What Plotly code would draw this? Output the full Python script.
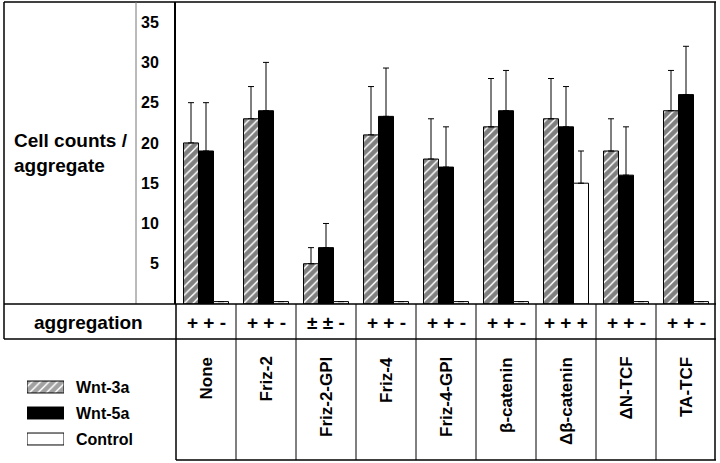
import plotly.graph_objects as go

W, H = 720, 463

categories = ["None", "Friz-2", "Friz-2-GPI", "Friz-4", "Friz-4-GPI",
              "β-catenin", "Δβ-catenin", "ΔN-TCF", "TA-TCF"]
wnt3a = [20, 23, 5, 21, 18, 22, 23, 19, 24]
wnt3a_err = [5, 4, 2, 6, 5, 6, 5, 4, 5]
wnt5a = [19, 24, 7, 23.3, 17, 24, 22, 16, 26]
wnt5a_err = [6, 6, 3, 6, 5, 5, 5, 6, 6]
control = [0.3, 0.3, 0.3, 0.3, 0.3, 0.3, 15, 0.3, 0.3]
control_err = [0, 0, 0, 0, 0, 0, 4, 0, 0]
aggregation = ["+ + -", "+ + -", "± ± -", "+ + -", "+ + -",
               "+ + -", "+ + +", "+ + -", "+ + -"]
yticks = [5, 10, 15, 20, 25, 30, 35]
series_names = ["Wnt-3a", "Wnt-5a", "Control"]

FONT = "Liberation Sans, Arial, Helvetica, sans-serif"
HATCH = dict(shape="/", fgcolor="black", size=6, solidity=0.75)


def px(x):
    return x / W


def py(y):
    return 1 - y / H


def err(vals):
    return dict(type="data", symmetric=False, array=vals,
                arrayminus=[0] * len(vals), color="black",
                thickness=1, width=3)


fig = go.Figure()
fig.add_trace(go.Bar(
    x=categories, y=wnt3a, name=series_names[0],
    marker=dict(color="white", line=dict(color="black", width=1),
                pattern=dict(HATCH, bgcolor="white")),
    error_y=err(wnt3a_err)))
fig.add_trace(go.Bar(
    x=categories, y=wnt5a, name=series_names[1],
    marker=dict(color="black", line=dict(color="black", width=1)),
    error_y=err(wnt5a_err)))
fig.add_trace(go.Bar(
    x=categories, y=control, name=series_names[2],
    marker=dict(color="white", line=dict(color="black", width=1)),
    error_y=err(control_err)))

# legend key drawn as a small bar chart of its own
fig.add_trace(go.Bar(
    x=[1, 1, 1], y=series_names, orientation="h",
    xaxis="x2", yaxis="y2", hoverinfo="skip",
    marker=dict(color=["white", "black", "white"],
                line=dict(color="black", width=1),
                pattern=dict(shape=["/", "", ""], fgcolor="black",
                             bgcolor=["white", "black", "white"],
                             size=6, solidity=0.75))))

fig.update_layout(
    width=W, height=H,
    margin=dict(l=0, r=0, t=0, b=0, autoexpand=False),
    paper_bgcolor="white", plot_bgcolor="white",
    barmode="group", bargap=0.25, bargroupgap=0,
    font=dict(family=FONT, color="black"),
    showlegend=False,
    xaxis=dict(domain=[px(176), px(716)], showticklabels=False,
               showgrid=False, zeroline=False, showline=False, ticks="",
               automargin=False),
    yaxis=dict(domain=[py(304), py(2)], range=[0, 37.5],
               tickvals=yticks, ticks="", showgrid=False, zeroline=False,
               showline=True, linewidth=2, linecolor="black",
               ticklabelstandoff=12, automargin=False,
               tickfont=dict(size=16, family=FONT, weight="bold")),
    xaxis2=dict(domain=[px(27), px(64)], range=[0, 1], visible=False,
                anchor="y2", automargin=False),
    yaxis2=dict(domain=[py(452), py(374)], anchor="x2", side="right",
                categoryorder="array", categoryarray=series_names[::-1],
                showgrid=False, zeroline=False, showline=False, ticks="",
                ticklabelstandoff=11, automargin=False,
                tickfont=dict(size=16, family=FONT, weight="bold")),
)
fig.update_traces(width=0.46, selector=dict(xaxis="x2"))

shapes = []


def line(x0, y0, x1, y1, w=1.2, color="black"):
    shapes.append(dict(type="line", xref="paper", yref="paper",
                       x0=px(x0), y0=py(y0), x1=px(x1), y1=py(y1),
                       line=dict(color=color, width=w)))


# outer frame / table rules
line(4, 2, 716, 2, 1.5)
line(4, 2, 4, 339, 1.5)
line(715, 2, 715, 460, 1.5)
line(136, 2, 136, 304, 1, "#777")
line(176, 304, 176, 460, 1.5)
line(4, 304, 716, 304, 1.5)
line(4, 339, 716, 339, 1.5)
line(176, 460, 716, 460, 1.5)
for k in range(1, 9):
    line(176 + 60 * k, 304, 176 + 60 * k, 460, 1)
fig.update_layout(shapes=shapes)

ann = []
ann.append(dict(text="<b>Cell counts /<br>aggregate</b>", x=px(12), y=py(153),
                xref="paper", yref="paper", xanchor="left", yanchor="middle",
                align="left", showarrow=False, font=dict(size=19, family=FONT)))
ann.append(dict(text="<b>aggregation</b>", x=px(88), y=py(322),
                xref="paper", yref="paper", xanchor="center", yanchor="middle",
                showarrow=False, font=dict(size=19, family=FONT)))
for c, a in zip(categories, aggregation):
    ann.append(dict(text=f"<b>{a}</b>", x=c, xref="x", y=py(322), yref="paper",
                    xanchor="center", yanchor="middle", showarrow=False,
                    font=dict(size=19, family=FONT)))
    ann.append(dict(text=f"<b>{c}</b>", x=c, xref="x", y=py(355), yref="paper",
                    xanchor="center", yanchor="top", textangle=-90,
                    showarrow=False, font=dict(size=17, family=FONT)))
fig.update_layout(annotations=ann)

fig.write_html("out.html", config={"displayModeBar": False},
               post_script="document.body.style.margin='0';"
                           "document.body.style.overflow='hidden';")
